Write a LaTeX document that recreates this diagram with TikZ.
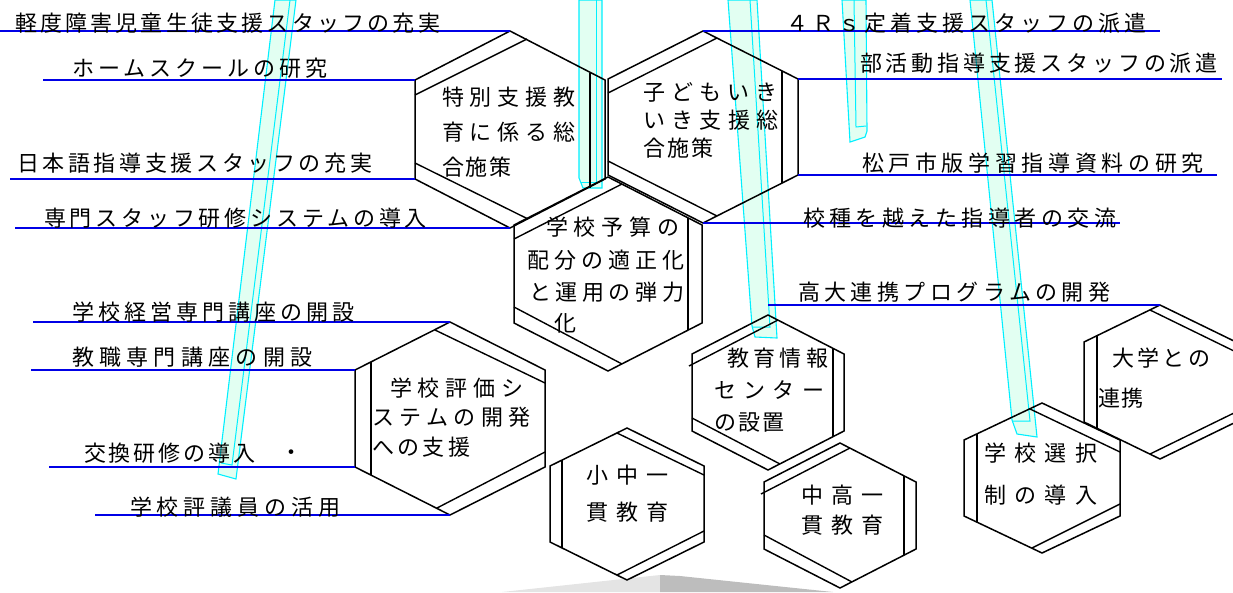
\documentclass[tikz,border=0pt]{standalone}
\usepackage{fontspec}
\newfontfamily\jp{Noto Sans CJK JP}
\newcommand\lsp[2]{{\addfontfeature{LetterSpace=#1}#2}}
\definecolor{linkblue}{RGB}{0,0,230}
\definecolor{stripcyan}{RGB}{0,240,255}
\definecolor{stripmint}{RGB}{226,255,242}
\definecolor{greylight}{RGB}{228,228,228}
\definecolor{greydark}{RGB}{189,189,189}
\tikzset{
  hexline/.style={draw=black, line width=1.5pt, line join=miter},
  bevel/.style={draw=black, line width=1.4pt},
  blueline/.style={draw=linkblue, line width=2pt},
  lbl/.style={anchor=base west, inner sep=0pt, outer sep=0pt, font=\jp\fontsize{22}{26}\selectfont},
  stripbody/.style={fill=stripmint, draw=stripcyan, line width=1.1pt, line join=miter},
  stripinner/.style={draw=stripcyan, line width=1pt},
}
% name, cx, top, half width, dy, side
\newcommand\hexa[6]{%
  \coordinate (#1t)  at (#2,#3);
  \coordinate (#1ur) at ({#2+#4},{#3+#5});
  \coordinate (#1lr) at ({#2+#4},{#3+#5+#6});
  \coordinate (#1b)  at (#2,{#3+2*#5+#6});
  \coordinate (#1ll) at ({#2-#4},{#3+#5+#6});
  \coordinate (#1ul) at ({#2-#4},{#3+#5});
  \draw[hexline] (#1t) -- (#1ur) -- (#1lr) -- (#1b) -- (#1ll) -- (#1ul) -- cycle;}
\begin{document}
\begin{tikzpicture}[x=1pt,y=-1pt]
\useasboundingbox (0,0) rectangle (1233,592);
\clip (0,0) rectangle (1233,592);

% grey pyramid at the bottom
\fill[greylight] (502,592) -- (660,575) -- (660,592) -- cycle;
\fill[greydark] (660,575) -- (680,576) -- (833,592) -- (660,592) -- cycle;

% cyan strips
\draw[stripbody] (275,0) -- (296,0) -- (236,479) -- (218,474) -- cycle;
\draw[stripinner] (290,0) -- (232,465) -- (221,463);
\draw[stripbody] (579,0) -- (602,0) -- (602,188) -- (583,188) -- (579,178) -- cycle;
\draw[stripinner] (596,0) -- (596,182) -- (581,182);
\draw[stripbody] (728,0) -- (757,0) -- (777,338) -- (755,337) -- (752,326) -- cycle;
\draw[stripinner] (750,0) -- (770,327) -- (752,327);
\draw[stripbody] (842,0) -- (866,0) -- (867,131) -- (865,137) -- (850,142) -- cycle;
\draw[stripinner] (854,0) -- (856,127) -- (866,126);
\draw[stripbody] (970,0) -- (992,0) -- (1037,437) -- (1017,434) -- (1012,420) -- cycle;
\draw[stripinner] (986,0) -- (1030,421) -- (1013,421);

% hexagons
\hexa{ha}{510}{31}{95}{49}{99}
\hexa{hb}{703}{31}{95}{48}{96}
\hexa{hc}{608}{177}{94}{48}{98}
\hexa{hd}{450}{322}{95}{48}{97}
\hexa{he}{627}{428}{77}{38}{76}
\hexa{hf}{840}{443}{76}{39}{67}
\hexa{hg}{768}{315}{76}{39}{77}
\hexa{hh}{1160}{305}{76}{37}{80}
\hexa{hi}{1042}{403}{78}{37}{76}

% bevel lines
\draw[bevel] (527,39) -- (415,95);  \draw[bevel] (415,163) -- (528,219); \draw[bevel] (590,73) -- (590,188);
\draw[bevel] (717,38) -- (608,93);  \draw[bevel] (608,161) -- (717,216); \draw[bevel] (782,71) -- (782,183);
\draw[bevel] (622,184) -- (514,239); \draw[bevel] (514,307) -- (622,364); \draw[bevel] (688,218) -- (688,330);
\draw[bevel] (435,330) -- (545,383); \draw[bevel] (437,508) -- (545,452); \draw[bevel] (371,362) -- (371,475);
\draw[bevel] (617,433) -- (704,475); \draw[bevel] (617,575) -- (704,531); \draw[bevel] (562,460) -- (562,548);
\draw[bevel] (850,448) -- (761,494); \draw[bevel] (764,535) -- (852,582); \draw[bevel] (904,476) -- (904,555);
\draw[bevel] (778,320) -- (689,366); \draw[bevel] (692,418) -- (780,464); \draw[bevel] (833,349) -- (833,437);
\draw[bevel] (1150,310) -- (1236,352); \draw[bevel] (1150,454) -- (1236,412); \draw[bevel] (1097,335) -- (1097,428);
\draw[bevel] (1030,409) -- (1120,452); \draw[bevel] (1032,548) -- (1120,504); \draw[bevel] (977,434) -- (977,522);

% connector line ends
\coordinate (l1s) at (0,31);
\coordinate (l2s) at (43,80);
\coordinate (l3s) at (10,179);
\coordinate (l4s) at (15,228);
\coordinate (l5s) at (33,322);
\coordinate (l6s) at (31,370);
\coordinate (l7s) at (49,467);
\coordinate (l8s) at (95,515);
\coordinate (r1e) at (1160,31);
\coordinate (r2e) at (1222,79);
\coordinate (r3e) at (1217,175);
\coordinate (r4e) at (1120,223);
\coordinate (r5s) at (768,305);

\draw[blueline] (l1s) -- (hat);
\draw[blueline] (l2s) -- (haul);
\draw[blueline] (l3s) -- (hall);
\draw[blueline] (l4s) -- (hab);
\draw[blueline] (l5s) -- (hdt);
\draw[blueline] (l6s) -- (hdul);
\draw[blueline] (l7s) -- (hdll);
\draw[blueline] (l8s) -- (hdb);
\draw[blueline] (hbt) -- (r1e);
\draw[blueline] (hbur) -- (r2e);
\draw[blueline] (hblr) -- (r3e);
\draw[blueline] (hbb) -- (r4e);
\draw[blueline] (r5s) -- (hht);

% labels
\node[lbl] (t1) at (15,31.5) {\lsp{14.5}{軽度障害児童生徒支援スタッフの充実}};
\node[lbl] (t2) at (72,76.5) {\lsp{18.4}{ホームスクールの研究}};
\node[lbl] (t3) at (17,171.5) {\lsp{16.5}{日本語指導支援スタッフの充実}};
\node[lbl] (t4) at (44,226.5) {\lsp{17.4}{専門スタッフ研修システムの導入}};
\node[lbl] (t5) at (72,320.5) {\lsp{18.4}{学校経営専門講座の開設}};
\node[lbl] (t6) at (72,365.5) {\lsp{24.1}{教職専門講座の開設}};
\node[lbl] (t7) at (84,461.5) {\lsp{13.6}{交換研修の導入}};
\node[lbl, anchor=center] (t7dot) at (291,455) {・};
\node[lbl] (t8) at (130,515.5) {\lsp{22.2}{学校評議員の活用}};
\node[lbl] (u1) at (786,31.5) {\lsp{18.4}{４Ｒｓ定着支援スタッフの派遣}};
\node[lbl] (u2) at (860,71.5) {\lsp{17.4}{部活動指導支援スタッフの派遣}};
\node[lbl] (u3) at (862,171.5) {\lsp{21.2}{松戸市版学習指導資料の研究}};
\node[lbl] (u4) at (803,226.5) {\lsp{20.3}{校種を越えた指導者の交流}};
\node[lbl] (u5) at (798,300.5) {\lsp{20.3}{高大連携プログラムの開発}};

% hexagon texts
\node[lbl] (ha1) at (442,105.5) {\lsp{27}{特別支援教}};
\node[lbl] (ha2) at (442,140.5) {\lsp{27}{育に係る総}};
\node[lbl] (ha3) at (442,175.5) {\lsp{8.8}{合施策}};
\node[lbl] (hb1) at (643,100.5) {\lsp{28.9}{子どもいき}};
\node[lbl] (hb2) at (643,128.5) {\lsp{28.9}{いき支援総}};
\node[lbl] (hb3) at (643,156.5) {\lsp{10.7}{合施策}};
\node[lbl] (hc1) at (546,235.5) {\lsp{27}{学校予算の}};
\node[lbl] (hc2) at (527,268.5) {\lsp{23.1}{配分の適正化}};
\node[lbl] (hc3) at (529,300.5) {\lsp{21.2}{と運用の弾力}};
\node[lbl] (hc4) at (554,331.5) {化};
\node[lbl] (hd1) at (390,396.5) {\lsp{27}{学校評価シ}};
\node[lbl] (hd2) at (372,425.5) {\lsp{25}{ステムの開発}};
\node[lbl] (hd3) at (372,455.5) {\lsp{15.5}{への支援}};
\node[lbl] (he1) at (586,483.5) {\lsp{37.5}{小中一}};
\node[lbl] (he2) at (586,520.5) {\lsp{37.5}{貫教育}};
\node[lbl] (hf1) at (801,503.5) {\lsp{36.5}{中高一}};
\node[lbl] (hf2) at (801,533.5) {\lsp{36.5}{貫教育}};
\node[lbl] (hg1) at (727,366.5) {\lsp{20.3}{教育情報}};
\node[lbl] (hg2) at (714,398.5) {\lsp{33.6}{センター}};
\node[lbl] (hg3) at (714,430.5) {\lsp{10.7}{の設置}};
\node[lbl] (hh1) at (1112,366.5) {\lsp{15.5}{大学との}};
\node[lbl] (hh2) at (1098,406.5) {\lsp{8.8}{連携}};
\node[lbl] (hi1) at (984,461.5) {\lsp{38.4}{学校選択}};
\node[lbl] (hi2) at (984,503.5) {\lsp{38.4}{制の導入}};
\end{tikzpicture}
\end{document}
